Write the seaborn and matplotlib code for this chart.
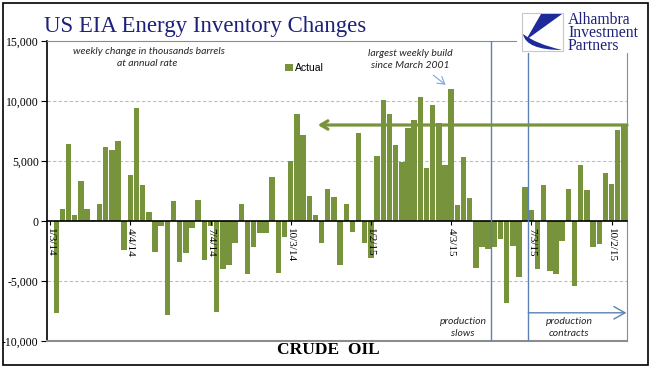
import matplotlib
matplotlib.use("Agg")
import matplotlib.pyplot as plt
import matplotlib.patches as mpatches
from matplotlib.path import Path
import pandas as pd
import seaborn as sns

# weekly change in crude oil inventories (thousand barrels, annual rate)
first_week = "2014-01-10"
changes = [
    -7700, 1000, 6400, 500, 3350, 1000, 100, 1400, 6150, 5900,
    6650, -2400, 3800, 9400, 3000, 750, -2550, -400, -7850, 1650,
    -3450, -2650, -600, 1750, -3250, -400, -7550, -4000, -3700, -1800,
    1400, -4450, -2150, -1000, -1000, 3650, -4300, -1350, 5000, 8900,
    7150, 2100, 500, -1800, 2650, 2000, -3700, 1450, -900, 7350,
    -1800, -3050, 5400, 10100, 8900, 6350, 4950, 7750, 8400, 10350,
    4450, 9650, 8200, 4700, 11000, 1350, 5350, 1950, -3900, -2200,
    -2350, -2200, -1500, -6850, -2100, -4650, 2800, 900, -4000, 3000,
    -4200, -4450, -1700, 2650, -5450, 4650, 2600, -2150, -1950, 4000,
    3100, 7600, 8100,
]
tick_dates = ["2014-01-03", "2014-04-04", "2014-07-04", "2014-10-03",
              "2015-01-02", "2015-04-03", "2015-07-03", "2015-10-02"]
tick_labels = ["1/3/14", "4/4/14", "7/4/14", "10/3/14",
               "1/2/15", "4/3/15", "7/3/15", "10/2/15"]
recent_level = 8000               # level of the latest build
slows_date = "2015-05-18 12:00"   # production slows
contracts_date = "2015-06-29 12:00"  # production contracts

weeks = pd.date_range(first_week, periods=len(changes), freq="7D")
df = pd.DataFrame({"week": weeks.strftime("%m/%d/%y"), "change": changes})


def week_pos(d):
    return (pd.Timestamp(d) - weeks[0]).total_seconds() / (7 * 86400)


OLIVE = "#77933c"
NAVY = "#1d2179"
STEEL = "#5b82b0"

W, H = 659, 386


def fx(px):
    return px / W


def fy(py):
    return 1 - py / H


fig = plt.figure(figsize=(6.59, 3.86), dpi=100)
ax = fig.add_axes([fx(47), fy(341), fx(627) - fx(47), fy(41) - fy(341)])

sns.barplot(data=df, x="week", y="change", color=OLIVE, saturation=1,
            width=0.88, ax=ax, label="Actual", zorder=2)

ax.set_xlim(-1.5, len(changes) - 0.5)
ax.set_ylim(-10000, 15000)
ax.set_xlabel("")
ax.set_ylabel("")

# axes styling
ax.spines["bottom"].set_position(("data", 0))
ax.spines["bottom"].set_color("black")
ax.spines["bottom"].set_linewidth(1.2)
ax.spines["bottom"].set_zorder(4)
ax.spines["left"].set_color("black")
ax.spines["left"].set_linewidth(1.2)
ax.spines["top"].set_color("#8c8c8c")
ax.spines["right"].set_color("#8c8c8c")
ax.axhline(-10000, color="#8c8c8c", lw=1.5, zorder=4, clip_on=False)
ax.xaxis.set_zorder(6)

ax.set_yticks([-10000, -5000, 0, 5000, 10000, 15000])
ax.set_yticklabels([f"{v:,}" for v in [-10000, -5000, 0, 5000, 10000, 15000]],
                   family="Liberation Serif", fontsize=8.5)
for y in [-5000, 5000, 10000]:
    ax.axhline(y, color="#bdbdbd", lw=0.8, ls=(0, (3, 2)), zorder=1)

ax.set_xticks([week_pos(d) for d in tick_dates])
ax.set_xticklabels(tick_labels, rotation=-90, family="Liberation Serif",
                   fontsize=8, va="top", ha="center")
ax.tick_params(axis="x", length=3, width=0.8, pad=2, direction="out")
ax.tick_params(axis="y", length=4, width=0.8, pad=2, direction="out")

# period markers
for d in [slows_date, contracts_date]:
    ax.axvline(week_pos(d), color=STEEL, lw=1, zorder=5)

# recent build back to earlier level
ax.annotate("", xy=(42.4, recent_level), xytext=(len(changes) - 0.5, recent_level),
            arrowprops=dict(arrowstyle="->, head_length=0.5, head_width=0.3",
                            color=OLIVE, lw=2.3, shrinkA=0, shrinkB=0,
                            mutation_scale=10), zorder=6)
ax.annotate("", xy=(len(changes) - 0.6, -7650), xytext=(week_pos(contracts_date), -7650),
            arrowprops=dict(arrowstyle="->, head_length=0.8, head_width=0.45",
                            color=STEEL, lw=1, shrinkA=0, shrinkB=0,
                            mutation_scale=10), zorder=6)
ax.annotate("", xy=(63.1, 11350), xytext=(61.1, 12150),
            arrowprops=dict(arrowstyle="->, head_length=0.5, head_width=0.3",
                            color="#7fa6d6", lw=0.8, shrinkA=0, shrinkB=0,
                            mutation_scale=10), zorder=6)

# legend
h, l = ax.get_legend_handles_labels()
ax.legend(h, l, loc="center left", bbox_to_anchor=(fx(280), fy(68)),
          bbox_transform=fig.transFigure, frameon=False, borderpad=0,
          handlelength=0.7, handleheight=0.7, handletextpad=0.2,
          prop={"family": "Liberation Sans", "size": 7.5})

# texts
ital = dict(family="Lato", style="italic", fontsize=7.5, color="#262626",
            ha="center", va="center")
fig.text(fx(44), fy(32), "US EIA Energy Inventory Changes", family="Liberation Serif",
         fontsize=16.5, color=NAVY, va="baseline", ha="left")
fig.text(fx(149), fy(52), "weekly change in thousands barrels", **ital)
fig.text(fx(147), fy(64), "at annual rate", **ital)
fig.text(fx(410), fy(53), "largest weekly build", **ital)
fig.text(fx(410), fy(66), "since March 2001", **ital)
fig.text(fx(463), fy(321), "production", **ital)
fig.text(fx(463), fy(334), "slows", **ital)
fig.text(fx(569), fy(321), "production", **ital)
fig.text(fx(569), fy(334), "contracts", **ital)
fig.text(fx(328), fy(350), "CRUDE  OIL", family="Liberation Serif", fontweight="bold",
         fontsize=12.5, color="black", ha="center", va="center")

# logo block
fig.patches.append(mpatches.Rectangle((fx(517), fy(53)), fx(647) - fx(517), fy(5) - fy(53),
                                      transform=fig.transFigure, facecolor="white",
                                      edgecolor="none", zorder=10))
fig.patches.append(mpatches.Rectangle((fx(522), fy(51)), fx(563) - fx(522), fy(13) - fy(51),
                                      transform=fig.transFigure, facecolor="white",
                                      edgecolor="#c8c8c8", lw=0.8, zorder=11))
wedge = Path([(fx(541), fy(14)), (fx(562), fy(14)), (fx(526), fy(40)), (fx(541), fy(14))],
             [Path.MOVETO, Path.LINETO, Path.LINETO, Path.CLOSEPOLY])
crescent = Path([(fx(523), fy(34)), (fx(526), fy(50)), (fx(562), fy(50)),
                 (fx(536), fy(44)), (fx(523), fy(34))],
                [Path.MOVETO, Path.CURVE3, Path.CURVE3, Path.CURVE3, Path.CURVE3])
for p in [wedge, crescent]:
    fig.patches.append(mpatches.PathPatch(p, transform=fig.transFigure,
                                          facecolor="#1f2a9a", edgecolor="none", zorder=12))
fig.text(fx(568), fy(12), "Alhambra\nInvestment\nPartners", family="Liberation Serif",
         fontsize=11.3, linespacing=0.74, color=NAVY, ha="left", va="top", zorder=13)

# outer frame
fig.patches.append(mpatches.Rectangle((fx(3), fy(365)), fx(648) - fx(3), fy(3) - fy(365),
                                      transform=fig.transFigure, facecolor="none",
                                      edgecolor="black", lw=1.2, zorder=14))

fig.savefig("out.png", dpi=100)
